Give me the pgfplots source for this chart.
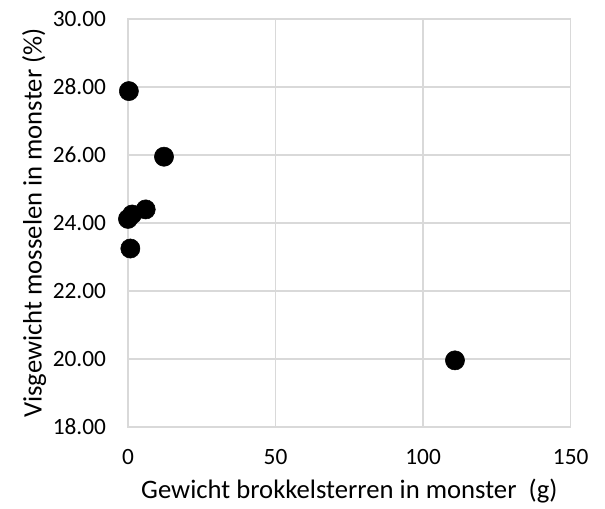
\documentclass[border=0pt]{standalone}
\usepackage{pgfplots}
\pgfplotsset{compat=1.18}
\usepackage{fontspec}
\setmainfont{Carlito}
\definecolor{gridgray}{HTML}{D9D9D9}
\begin{document}
\begin{tikzpicture}
\begin{axis}[
  at={(0pt,0pt)}, anchor=south west,
  scale only axis,
  width=332pt, height=306pt,
  xmin=0, xmax=150, ymin=18, ymax=30,
  xtick={0,50,100,150},
  ytick={18,20,22,24,26,28,30},
  yticklabel style={/pgf/number format/fixed, /pgf/number format/fixed zerofill, /pgf/number format/precision=2, xshift=-13pt},
  /pgf/number format/assume math mode=true,
  tick style={draw=none},
  grid=major,
  major grid style={gridgray, line width=1pt},
  axis line style={gridgray, line width=1pt},
  tick label style={font=\fontsize{17.5}{20}\selectfont, text=black},
  xticklabel style={yshift=-13pt},
  label style={font=\fontsize{20}{24}\selectfont},
  xlabel={Gewicht brokkelsterren in monster~~(g)},
  ylabel={Visgewicht mosselen in monster (\%)},
  xlabel style={yshift=-4pt},
  ylabel style={yshift=-2pt},
  clip=false,
]
\addplot[only marks, mark=*, mark size=7.2pt, black, mark options={fill=black}] coordinates {
  (0.3,27.88) (12.2,25.95) (6.0,24.40) (1.4,24.25) (0.0,24.12) (0.8,23.25) (110.8,19.96)
};
\end{axis}
\pgfresetboundingbox
\path (-96pt,-60.75pt) rectangle (357.75pt,320.25pt);
\end{tikzpicture}
\end{document}
